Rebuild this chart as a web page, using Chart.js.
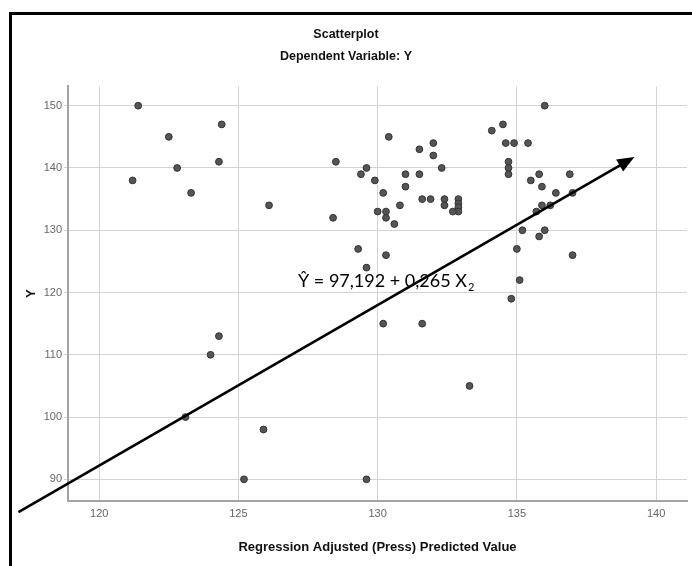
<!DOCTYPE html>
<html>
<head>
<meta charset="utf-8">
<script src="https://cdn.jsdelivr.net/npm/chart.js@4/dist/chart.umd.min.js"></script>
<style>
  body { margin: 0; background: #fff; }
  #frame { position: absolute; left: 9px; top: 12px; width: 720px; height: 620px; border: 3px solid #000; }
  #chart { position: absolute; left: 0; top: 0; }
</style>
</head>
<body>
<div id="frame"></div>
<canvas id="chart" width="692" height="566"></canvas>
<script>
// Regression adjusted (press) predicted value vs observed Y
const predicted = [
  121.4, 122.5, 124.4, 124.3, 122.8, 121.2, 123.3, 126.1,
  130.4, 131.5, 132.0, 132.0, 128.5, 129.6, 129.4, 129.9, 131.0, 131.5, 132.3,
  131.0, 130.2, 131.6, 131.9, 132.4, 132.4, 132.9, 132.9, 132.9, 132.9,
  130.8, 132.7, 130.0, 130.3, 130.3, 128.4, 130.6, 129.3, 130.3, 129.6,
  130.2, 131.6, 133.3, 125.9, 125.2, 129.6, 124.3, 124.0, 123.1,
  136.0, 134.5, 134.1, 134.6, 134.9, 135.4, 134.7, 134.7, 134.7, 135.8, 136.9,
  135.5, 135.9, 136.4, 137.0, 135.9, 136.2, 135.7, 135.2, 136.0, 135.8,
  135.0, 137.0, 135.1, 134.8
];
const observed = [
  150, 145, 147, 141, 140, 138, 136, 134,
  145, 143, 144, 142, 141, 140, 139, 138, 139, 139, 140,
  137, 136, 135, 135, 135, 134, 135, 134.3, 133.7, 133,
  134, 133, 133, 133, 132, 132, 131, 127, 126, 124,
  115, 115, 105, 98, 90, 90, 113, 110, 100,
  150, 147, 146, 144, 144, 144, 141, 140, 139, 139, 139,
  138, 137, 136, 136, 134, 134, 133, 130, 130, 129,
  127, 126, 122, 119
];
const xTicks = [120, 125, 130, 135, 140];
const yTicks = [90, 100, 110, 120, 130, 140, 150];

// hand-drawn fit arrow and its equation (data coordinates)
const arrowFrom = [117.1, 84.75];
const arrowTo = [139.22, 141.76];
const equation = ['Ŷ = 97,192 + 0,265 X', '2'];
const equationAt = [127.14, 120.88];

const sans = "'Liberation Sans', Arial, sans-serif";

const fitArrow = {
  id: 'fitArrow',
  afterDatasetsDraw(chart) {
    const { ctx, scales: { x, y } } = chart;
    ctx.save();

    // equation text
    const lx = x.getPixelForValue(equationAt[0]);
    const ly = y.getPixelForValue(equationAt[1]);
    ctx.fillStyle = '#000';
    ctx.textBaseline = 'alphabetic';
    ctx.font = '18px Lato';
    ctx.fillText(equation[0], lx, ly);
    const w = ctx.measureText(equation[0]).width;
    ctx.font = '11px Lato';
    ctx.fillText(equation[1], lx + w + 1, ly + 4);

    // arrow
    const x1 = x.getPixelForValue(arrowFrom[0]), y1 = y.getPixelForValue(arrowFrom[1]);
    const x2 = x.getPixelForValue(arrowTo[0]), y2 = y.getPixelForValue(arrowTo[1]);
    const ang = Math.atan2(y2 - y1, x2 - x1);
    const head = 17, half = 7;
    const c = Math.cos(ang), s = Math.sin(ang);
    ctx.strokeStyle = '#000';
    ctx.lineWidth = 2.6;
    ctx.beginPath();
    ctx.moveTo(x1, y1);
    ctx.lineTo(x2 - head * 0.8 * c, y2 - head * 0.8 * s);
    ctx.stroke();
    ctx.beginPath();
    ctx.moveTo(x2, y2);
    ctx.lineTo(x2 - head * c + half * s, y2 - head * s - half * c);
    ctx.lineTo(x2 - head * c - half * s, y2 - head * s + half * c);
    ctx.closePath();
    ctx.fill();
    ctx.restore();
  }
};

new Chart(document.getElementById('chart'), {
  type: 'scatter',
  data: {
    datasets: [{
      data: predicted.map((v, i) => ({ x: v, y: observed[i] })),
      pointRadius: 3.4,
      backgroundColor: '#555',
      borderColor: '#333',
      borderWidth: 1
    }]
  },
  options: {
    responsive: false,
    animation: false,
    layout: { padding: 0 },
    plugins: {
      legend: { display: false },
      tooltip: { enabled: false },
      title: {
        display: true,
        text: 'Scatterplot',
        color: '#111',
        font: { family: sans, size: 12.5, weight: 'bold' },
        padding: { top: 27.5, bottom: 4 }
      },
      subtitle: {
        display: true,
        text: 'Dependent Variable: Y',
        color: '#111',
        font: { family: sans, size: 12.5, weight: 'bold' },
        padding: { top: 3, bottom: 21.9 }
      }
    },
    scales: {
      x: {
        type: 'linear',
        min: 118.88,
        max: 141.11,
        afterBuildTicks: s => { s.ticks = xTicks.map(v => ({ value: v })); },
        afterFit: s => { s.height = 65; },
        grid: { color: '#d3d3d3', lineWidth: 1, drawTicks: false },
        border: { color: '#a3a3a3', width: 2 },
        ticks: { padding: 6.4, color: '#666', font: { family: sans, size: 11 } },
        title: {
          display: true,
          text: 'Regression Adjusted (Press) Predicted Value',
          color: '#111',
          font: { family: sans, size: 13, weight: 'bold' },
          padding: { top: 0, bottom: 11.2 }
        }
      },
      y: {
        type: 'linear',
        min: 86.52,
        max: 153.1,
        afterBuildTicks: s => { s.ticks = yTicks.map(v => ({ value: v })); },
        afterFit: s => { s.width = 68; },
        grid: { color: '#d3d3d3', lineWidth: 1, drawTicks: true, tickLength: 4 },
        border: { color: '#a3a3a3', width: 2 },
        ticks: { padding: 2, color: '#666', font: { family: sans, size: 11 } },
        title: {
          display: true,
          text: 'Y',
          color: '#111',
          font: { family: sans, size: 13, weight: 'bold' },
          padding: { top: 23.2, bottom: 0 }
        }
      }
    }
  },
  plugins: [fitArrow]
});
</script>
</body>
</html>
